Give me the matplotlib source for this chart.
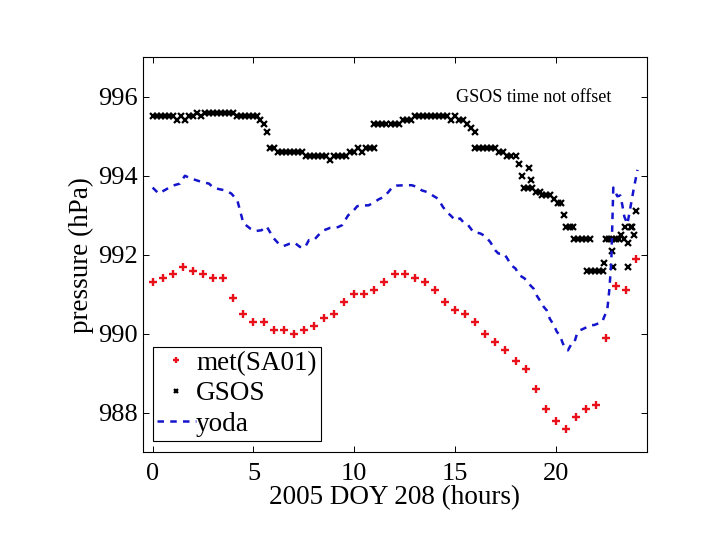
import numpy as np
import matplotlib
matplotlib.use("Agg")
import matplotlib.pyplot as plt

plt.rcParams['font.family'] = ['Liberation Serif', 'DejaVu Serif']

# ---------------- data ----------------
met_hours = [0.0, 0.5, 1.0, 1.5, 2.0, 2.5, 3.0, 3.5, 4.0, 4.5, 5.0, 5.5, 6.0, 6.5,
             7.0, 7.5, 8.0, 8.5, 9.0, 9.5, 10.0, 10.5, 11.0, 11.5, 12.0, 12.5,
             13.0, 13.5, 14.0, 14.5, 15.0, 15.5, 16.0, 16.5, 17.0, 17.5, 18.0,
             18.5, 19.0, 19.5, 20.0, 20.5, 21.0, 21.5, 22.0, 22.5, 23.0, 23.5, 24.0]
met_press = [991.3, 991.4, 991.5, 991.7, 991.6, 991.5, 991.4, 991.4, 990.9, 990.5,
             990.3, 990.3, 990.1, 990.1, 990.0, 990.1, 990.2, 990.4, 990.5, 990.8,
             991.0, 991.0, 991.1, 991.3, 991.5, 991.5, 991.4, 991.3, 991.1, 990.8,
             990.6, 990.5, 990.3, 990.0, 989.8, 989.6, 989.3, 989.1, 988.6, 988.1,
             987.8, 987.6, 987.9, 988.1, 988.2, 989.9, 991.2, 991.1, 991.9]

gsos_hours = [0.0, 0.2, 0.4, 0.6, 0.8,
              1.0, 1.2, 1.4, 1.6, 1.8,
              2.0, 2.2, 2.4, 2.6, 2.8,
              3.0, 3.2, 3.4, 3.6, 3.8,
              4.0, 4.2, 4.4, 4.6, 4.8,
              5.0, 5.2, 5.35, 5.5, 5.65, 5.8,
              6.0, 6.2, 6.4, 6.6, 6.8,
              7.0, 7.2, 7.4, 7.6, 7.8,
              8.0, 8.2, 8.4, 8.6, 8.8,
              9.0, 9.2, 9.4, 9.6, 9.8,
              10.0, 10.2, 10.4, 10.6, 10.8,
              11.0, 11.0, 11.2, 11.4, 11.6, 11.8,
              12.0, 12.2, 12.4, 12.6, 12.8,
              13.0, 13.2, 13.4, 13.6, 13.8,
              14.0, 14.2, 14.4, 14.6, 14.8,
              15.0, 15.2, 15.4, 15.6, 15.8,
              16.0, 16.0, 16.2, 16.4, 16.6, 16.8,
              17.0, 17.2, 17.4, 17.6, 17.8,
              18.0, 18.15, 18.3, 18.4, 18.6, 18.65, 18.75, 18.8,
              19.0, 19.2, 19.3, 19.5, 19.7, 19.9,
              20.1, 20.25, 20.4, 20.5, 20.7, 20.85,
              20.9, 21.1, 21.3, 21.5, 21.7,
              21.55, 21.75, 21.95, 22.15, 22.35, 22.4,
              22.5, 22.65, 22.8, 22.8, 22.85,
              23.0, 23.15, 23.25, 23.4, 23.45, 23.6, 23.6, 23.75, 23.8, 23.9, 24.0]
gsos_press = [995.5, 995.5, 995.5, 995.5, 995.5,
              995.5, 995.4, 995.5, 995.4, 995.5,
              995.5, 995.6, 995.5, 995.6, 995.6,
              995.6, 995.6, 995.6, 995.6, 995.6,
              995.6, 995.5, 995.5, 995.5, 995.5,
              995.5, 995.5, 995.4, 995.3, 995.1, 994.7,
              994.7, 994.6, 994.6, 994.6, 994.6,
              994.6, 994.6, 994.6, 994.5, 994.5,
              994.5, 994.5, 994.5, 994.5, 994.4,
              994.5, 994.5, 994.5, 994.5, 994.6,
              994.6, 994.7, 994.6, 994.7, 994.7,
              994.7, 995.3, 995.3, 995.3, 995.3, 995.3,
              995.3, 995.3, 995.4, 995.4, 995.4,
              995.5, 995.5, 995.5, 995.5, 995.5,
              995.5, 995.5, 995.5, 995.5, 995.4,
              995.5, 995.4, 995.4, 995.3, 995.2,
              995.1, 994.7, 994.7, 994.7, 994.7, 994.7,
              994.7, 994.6, 994.6, 994.5, 994.5,
              994.5, 994.3, 994.0, 993.7, 993.7, 994.2, 993.9, 993.7,
              993.6, 993.6, 993.5, 993.5, 993.5, 993.4,
              993.3, 993.3, 993.0, 992.7, 992.7, 992.7,
              992.4, 992.4, 992.4, 992.4, 992.4,
              991.6, 991.6, 991.6, 991.6, 991.6, 991.8,
              992.4, 992.4, 992.4, 992.1, 991.7,
              992.4, 992.4, 992.5, 992.4, 992.7, 992.3, 991.7, 992.7, 992.7, 992.5, 993.1]

yoda_hours = [0.0, 0.3, 1.0, 1.35, 1.6, 1.9, 2.45, 2.8, 3.0, 3.3, 3.6, 3.9, 4.2,
              4.5, 4.85, 5.1, 5.4, 5.65, 6.0, 6.25, 6.5, 6.8, 7.05, 7.3, 7.55,
              7.75, 8.0, 8.3, 8.5, 8.8, 9.2, 9.4, 9.7, 9.9, 10.15, 10.4, 10.7,
              10.95, 11.2, 11.45, 11.7, 11.9, 12.1, 12.5, 12.85, 13.1, 13.35,
              13.6, 14.15, 14.4, 14.6, 14.85, 15.0, 15.25, 15.4, 15.65, 15.9,
              16.25, 16.5, 16.75, 17.0, 17.15, 17.4, 17.55, 17.8, 18.0, 18.2,
              18.45, 18.65, 18.9, 19.05, 19.2, 19.4, 19.55, 19.7, 19.9, 20.05,
              20.2, 20.35, 20.5, 20.6, 20.75, 20.9, 21.05, 21.2, 21.3, 21.55,
              21.75, 21.9, 22.1, 22.3, 22.4, 22.55, 22.65, 22.75, 22.85, 23.05,
              23.2, 23.3, 23.4, 23.55, 23.7, 23.85, 24.05]
yoda_press = [993.7, 993.55, 993.75, 993.8, 994.0, 993.93, 993.84, 993.8, 993.7,
              993.66, 993.63, 993.55, 993.38, 992.8, 992.66, 992.6, 992.62, 992.72,
              992.42, 992.28, 992.22, 992.28, 992.3, 992.2, 992.18, 992.37, 992.37,
              992.54, 992.62, 992.68, 992.7, 992.75, 993.0, 993.08, 993.23, 993.25,
              993.25, 993.31, 993.4, 993.46, 993.59, 993.72, 993.75, 993.76, 993.76,
              993.72, 993.63, 993.59, 993.42, 993.21, 993.08, 992.96, 992.87,
              992.92, 992.83, 992.75, 992.58, 992.54, 992.47, 992.32, 992.11,
              992.03, 992.03, 991.94, 991.73, 991.65, 991.48, 991.4, 991.27,
              991.14, 990.97, 990.85, 990.68, 990.59, 990.38, 990.22, 990.05,
              989.96, 989.75, 989.62, 989.58, 989.72, 989.75, 990.0, 990.09,
              990.11, 990.17, 990.22, 990.22, 990.26, 990.3, 990.43, 990.6,
              991.1, 991.8, 993.7, 993.48, 993.5, 993.25, 992.96, 992.78, 993.2,
              993.63, 994.15]

x_ticks = [0, 5, 10, 15, 20]
y_ticks = [988, 990, 992, 994, 996]
series_labels = ['met(SA01)', 'GSOS', 'yoda']

# ---------------- plot ----------------
fig = plt.figure(figsize=(7.2, 5.4), dpi=100)
ax = fig.add_axes([0.198, 0.1625, 0.700, 0.7315])

ax.plot(met_hours, met_press, linestyle='none', marker='+', color='#e8101a',
        markersize=6, markeredgewidth=1.7, label=series_labels[0])
ax.plot(gsos_hours, gsos_press, linestyle='none', marker='x', color='black',
        markersize=4.2, markeredgewidth=1.6, label=series_labels[1])
ax.plot(yoda_hours, yoda_press, linestyle=(0, (2.6, 2.5)), color='#1414cc',
        linewidth=1.8, label=series_labels[2])

ax.set_xlim(-0.5, 24.5)
ax.set_ylim(987, 997)
ax.set_xticks(x_ticks)
ax.set_yticks(y_ticks)
ax.tick_params(direction='in', length=4.3, width=0.7, top=True, right=True,
               labelsize=19)
ax.tick_params(axis='x', pad=8)
ax.tick_params(axis='y', pad=3.5)
for s in ax.spines.values():
    s.set_linewidth(0.8)

ax.set_xlabel('2005 DOY 208 (hours)', fontsize=19.5, labelpad=0)
ax.set_ylabel('pressure (hPa)', fontsize=19.5, labelpad=3)

ax.text(0.776, 0.897, 'GSOS time not offset', transform=ax.transAxes,
        ha='center', va='center', fontsize=13)

leg = ax.legend(loc='lower left', bbox_to_anchor=(0.02, 0.029), borderaxespad=0,
                fontsize=19.5, markerscale=0.75, handlelength=1.45,
                handletextpad=0.0, labelspacing=0.2, borderpad=0.15,
                frameon=True, fancybox=False, framealpha=1)
leg.get_frame().set_edgecolor('black')
leg.get_frame().set_linewidth(0.8)

fig.savefig('out.png', dpi=100)
